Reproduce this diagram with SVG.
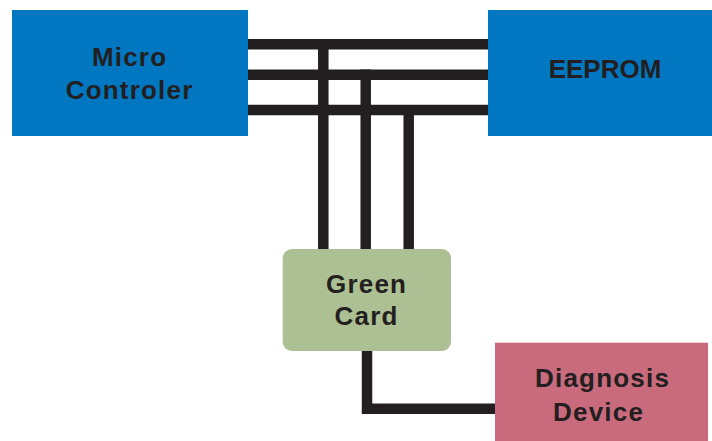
<svg xmlns="http://www.w3.org/2000/svg" width="712" height="441" viewBox="0 0 712 441">
<style>
.lbl{font-family:"Liberation Sans",Arial,sans-serif;font-weight:bold;font-size:26px;fill:#231f20;text-anchor:middle;letter-spacing:1.2px}
.caps{letter-spacing:0}
.w{stroke:#231f20;stroke-width:10.5;fill:none}
</style>
<rect width="712" height="441" fill="#ffffff"/>
<g id="connectors">
<line class="w" x1="248" y1="44.3" x2="488" y2="44.3"/>
<line class="w" x1="248" y1="74.7" x2="488" y2="74.7"/>
<line class="w" x1="248" y1="110" x2="488" y2="110"/>
<line class="w" x1="323.3" y1="39" x2="323.3" y2="250"/>
<line class="w" x1="365.7" y1="69.5" x2="365.7" y2="250"/>
<line class="w" x1="408.7" y1="105" x2="408.7" y2="250"/>
<polyline class="w" points="367,350 367,408.7 496,408.7"/>
</g>
<g id="micro">
<rect x="12" y="10" width="236" height="126" fill="#0077c0"/>
<text class="lbl" x="129.6" y="66">Micro</text>
<text class="lbl" x="129.6" y="99">Controler</text>
</g>
<g id="eeprom">
<rect x="488" y="10" width="224" height="126" fill="#0077c0"/>
<text class="lbl caps" x="605" y="78">EEPROM</text>
</g>
<g id="green">
<rect x="282.7" y="249" width="168.3" height="102" rx="9" fill="#adc093"/>
<text class="lbl" x="366.6" y="293">Green</text>
<text class="lbl" x="366.6" y="325">Card</text>
</g>
<g id="diag">
<rect x="495" y="342.7" width="213" height="99" fill="#c96b7d"/>
<text class="lbl" x="602.6" y="387">Diagnosis</text>
<text class="lbl" x="598.6" y="421">Device</text>
</g>
</svg>
